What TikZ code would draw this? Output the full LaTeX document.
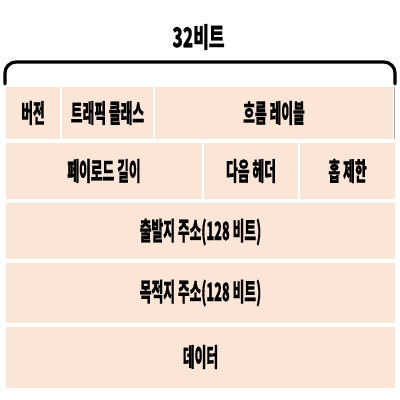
\documentclass[tikz,border=0pt]{standalone}
\usepackage{fontspec}
\newfontfamily\krfont[FakeStretch=0.5,FakeBold=0.5]{Noto Sans CJK KR}
\newfontfamily\krtitle[FakeStretch=0.62,FakeBold=0.5]{Noto Sans CJK KR}
\definecolor{peach}{HTML}{FBE5D6}
\begin{document}
\begin{tikzpicture}[x=1pt,y=-1pt,
  cell/.style={fill=peach, draw=none},
  lbl/.style={font=\krfont\bfseries\fontsize{25.5}{25.5}\selectfont, inner sep=0pt, anchor=center},
  brace/.style={line width=3.2pt, rounded corners=11pt, line cap=round}]
\useasboundingbox[fill=white] (0,0) rectangle (400,400);
% brace and title
\coordinate (bl) at (5,84);
\coordinate (br) at (395,84);
\draw[brace] (bl) -- (5,62) -- (395,62) -- (br);
\node[lbl, font=\krtitle\bfseries\fontsize{27.5}{27.5}\selectfont] (title) at (198.5,37) {32비트};
% row 1
\fill[cell] (6,87) rectangle (60,139) coordinate (c11);
\node[lbl] (ver) at (33,113) {버전};
\fill[cell] (62,87) rectangle (153,139);
\node[lbl] (tc) at (107.5,113) {트래픽 클래스};
\fill[cell] (155,87) rectangle (393,139);
\draw[gray!70, line width=1.5pt] (394.5,87) -- (394.5,139);
\node[lbl] (fl) at (274,113) {흐름 레이블};
% row 2
\fill[cell] (6,143) rectangle (202,199);
\node[lbl] (pl) at (104,171) {페이로드 길이};
\fill[cell] (204,143) rectangle (298,199);
\node[lbl] (nh) at (251,171) {다음 헤더};
\fill[cell] (300,143) rectangle (395,199);
\node[lbl] (hl) at (347.5,171) {홉 제한};
% rows 3-5
\fill[cell] (6,203) rectangle (395,259);
\node[lbl] (src) at (200.5,232) {출발지 주소(128 비트)};
\fill[cell] (6,263) rectangle (395,323);
\node[lbl] (dst) at (200.5,293) {목적지 주소(128 비트)};
\fill[cell] (6,327) rectangle (395,388);
\node[lbl] (data) at (200.5,357) {데이터};
\end{tikzpicture}
\end{document}
